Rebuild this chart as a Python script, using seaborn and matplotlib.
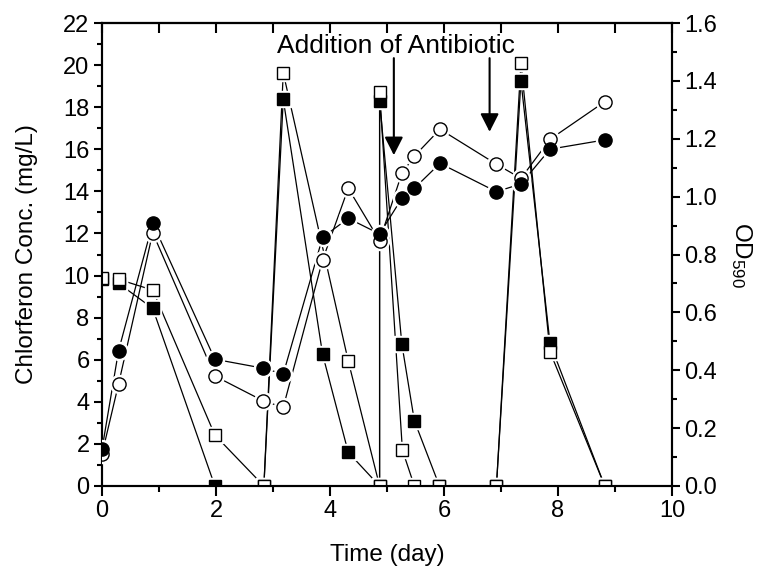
import numpy as np
import pandas as pd
import matplotlib
matplotlib.use("Agg")
import matplotlib.pyplot as plt
from matplotlib.ticker import MultipleLocator, FormatStrFormatter
import seaborn as sns

# ---- data ----
sq_open_x = [0, 0.29, 0.89, 1.98, 2.84, 3.18, 4.32, 4.87, 4.87, 5.27, 5.48, 5.92, 6.92, 7.35, 7.86, 8.82]
sq_open_y = [9.9, 9.82, 9.31, 2.42, 0, 19.63, 5.94, 0, 18.73, 1.71, 0, 0, 0, 20.11, 6.38, 0]

sq_fill_x = [0, 0.29, 0.89, 1.98, 2.84, 3.18, 3.87, 4.32, 4.87, 4.87, 5.26, 5.48, 5.92, 6.92, 7.35, 7.86, 8.82]
sq_fill_y = [9.85, 9.63, 8.44, 0, 0, 18.37, 6.26, 1.60, 0, 18.30, 6.75, 3.10, 0, 0, 19.25, 6.78, 0]

ci_x = [0, 0.29, 0.89, 1.98, 2.83, 3.18, 3.87, 4.32, 4.87, 5.26, 5.48, 5.93, 6.92, 7.35, 7.86, 8.82]
ci_fill_y = [0.127, 0.467, 0.908, 0.438, 0.407, 0.387, 0.859, 0.925, 0.871, 0.994, 1.029, 1.115, 1.017, 1.044, 1.164, 1.196]
ci_open_y = [0.110, 0.352, 0.875, 0.380, 0.294, 0.272, 0.781, 1.029, 0.848, 1.080, 1.140, 1.233, 1.112, 1.063, 1.198, 1.328]

arrow_x = [5.12, 6.80]
arrow_tip_y = [15.72, 16.83]
arrow_start_y = 20.33
annot_text = "Addition of Antibiotic"

xlabel = "Time (day)"
ylabel_left = "Chlorferon Conc. (mg/L)"
ylabel_right = "OD$_{590}$"

# ---- style ----
sns.set_style("ticks")
plt.rcParams['font.family'] = ['Liberation Sans', 'DejaVu Sans']
plt.rcParams['mathtext.fontset'] = 'custom'
plt.rcParams['mathtext.rm'] = 'Liberation Sans'
plt.rcParams['mathtext.it'] = 'Liberation Sans'
for k in ('text.color', 'axes.labelcolor', 'xtick.color', 'ytick.color', 'axes.edgecolor'):
    plt.rcParams[k] = 'black'

fig = plt.figure(figsize=(7.63, 5.73), dpi=100)
ax = fig.add_axes([102/763, 87/573, 570/763, 463/573])
ax2 = ax.twinx()

LW = 0.9
MS_C = 9.5
MS_S = 8.5

df_so = pd.DataFrame({"x": sq_open_x, "y": sq_open_y})
df_sf = pd.DataFrame({"x": sq_fill_x, "y": sq_fill_y})
df_cf = pd.DataFrame({"x": ci_x, "y": ci_fill_y})
df_co = pd.DataFrame({"x": ci_x, "y": ci_open_y})

def series(axis, df, marker, ms, z):
    sns.lineplot(data=df, x="x", y="y", ax=axis, sort=False, estimator=None,
                 color="black", lw=LW, zorder=z)
    # white halo gives the small gaps around markers
    axis.plot(df["x"], df["y"], ls="none", marker=marker, ms=ms + 3.5,
              mfc="white", mec="white", zorder=z + 1)

def markers(axis, df, marker, face, ms, z):
    axis.plot(df["x"], df["y"], ls="none", marker=marker, ms=ms,
              mfc=face, mec="black", mew=1.0, zorder=z)

series(ax, df_sf, "s", MS_S, 2)
series(ax, df_so, "s", MS_S, 2)
markers(ax, df_sf, "s", "black", MS_S, 5)
markers(ax, df_so, "s", "white", MS_S, 6)

series(ax2, df_co, "o", MS_C, 2)
series(ax2, df_cf, "o", MS_C, 2)
markers(ax2, df_co, "o", "white", MS_C, 5)
markers(ax2, df_cf, "o", "black", MS_C, 6)

# ---- axes ----
ax.set_xlim(0, 10)
ax.set_ylim(0, 22)
ax2.set_ylim(0, 1.6)

ax.xaxis.set_major_locator(MultipleLocator(2))
ax.xaxis.set_minor_locator(MultipleLocator(1))
ax.yaxis.set_major_locator(MultipleLocator(2))
ax.yaxis.set_minor_locator(MultipleLocator(1))
ax2.yaxis.set_major_locator(MultipleLocator(0.2))
ax2.yaxis.set_minor_locator(MultipleLocator(0.1))
ax2.yaxis.set_major_formatter(FormatStrFormatter('%.1f'))

TFS = 17
ax.tick_params(axis='x', which='major', direction='out', length=7, width=1.5, labelsize=TFS, pad=3)
ax.tick_params(axis='x', which='minor', direction='out', length=4.5, width=1.5)
ax.tick_params(axis='y', which='major', direction='out', length=6, width=1.5, labelsize=TFS, pad=3)
ax.tick_params(axis='y', which='minor', direction='out', length=3.5, width=1.5)
ax2.tick_params(axis='y', which='major', direction='out', length=6, width=1.5, labelsize=TFS, pad=3)
ax2.tick_params(axis='y', which='minor', direction='out', length=3.5, width=1.5)

top = ax.secondary_xaxis('top')
top.set_xticks(np.arange(0, 11, 1))
top.tick_params(axis='x', direction='in', length=7, width=1.5, labeltop=False)
top.set_xticklabels([])
top.spines['top'].set_linewidth(1.5)

for a in (ax, ax2):
    for s in a.spines.values():
        s.set_linewidth(1.5)
        s.set_visible(True)

LFS = 17.5
ax.set_xlabel(xlabel, fontsize=LFS, labelpad=16)
ax.set_ylabel(ylabel_left, fontsize=LFS, labelpad=18)
ax2.set_ylabel(ylabel_right, fontsize=LFS, rotation=270, labelpad=26)

# ---- annotation ----
ax.text(5.15, 20.9, annot_text, ha="center", va="center", fontsize=19, zorder=10)
for xa, yt in zip(arrow_x, arrow_tip_y):
    ax.annotate("", xy=(xa, yt), xytext=(xa, arrow_start_y),
                arrowprops=dict(arrowstyle="-|>,head_length=0.55,head_width=0.28",
                                mutation_scale=20, lw=1.5, color="black",
                                shrinkA=0, shrinkB=0), zorder=10)

fig.savefig("out.png", dpi=100)
